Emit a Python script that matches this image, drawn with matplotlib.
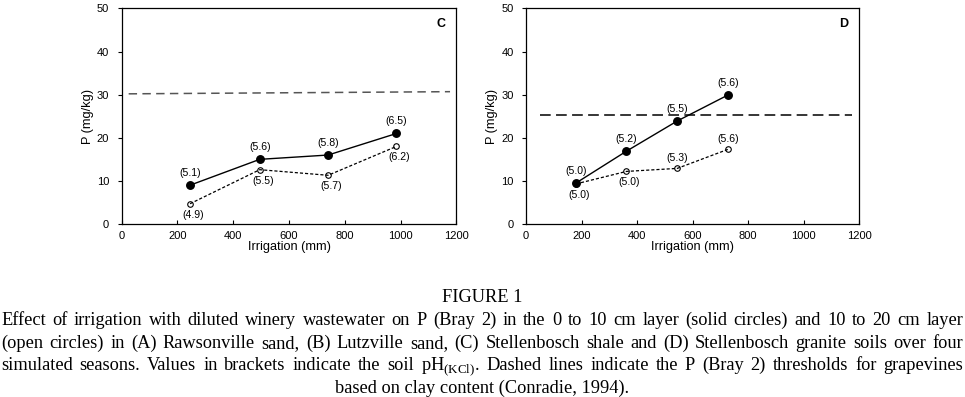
import matplotlib
matplotlib.use("Agg")
import matplotlib.pyplot as plt

plt.rcParams['font.family'] = ['Liberation Sans', 'DejaVu Sans']
plt.rcParams['mathtext.fontset'] = 'custom'
plt.rcParams['mathtext.rm'] = 'Liberation Serif'

# panel C - Stellenbosch shale
c_irr = [245, 495, 740, 985]
c_top = [9.0, 15.0, 16.0, 21.0]
c_sub = [4.7, 12.6, 11.3, 18.0]
c_top_ph = ["(5.1)", "(5.6)", "(5.8)", "(6.5)"]
c_sub_ph = ["(4.9)", "(5.5)", "(5.7)", "(6.2)"]
c_thr_x = [25, 1177]
c_thr_y = [30.2, 30.7]

# panel D - Stellenbosch granite
d_irr = [180, 362, 545, 727]
d_top = [9.5, 16.9, 23.9, 29.9]
d_sub = [9.3, 12.2, 12.9, 17.3]
d_top_ph = ["(5.0)", "(5.2)", "(5.5)", "(5.6)"]
d_sub_ph = ["(5.0)", "(5.0)", "(5.3)", "(5.6)"]
d_sub_pos = ["below", "below", "above", "above"]
d_thr_x = [50, 1173]
d_thr_y = [25.3, 25.3]

xticks = [0, 200, 400, 600, 800, 1000, 1200]
yticks = [0, 10, 20, 30, 40, 50]

caption = [
    "Effect of irrigation with diluted winery wastewater on P (Bray 2) in the 0 to 10 cm layer (solid circles) and 10 to 20 cm layer",
    "(open circles) in (A) Rawsonville sand, (B) Lutzville sand, (C) Stellenbosch shale and (D) Stellenbosch granite soils over four",
    "simulated seasons. Values in brackets indicate the soil pH$_{\\mathrm{(KCl)}}$. Dashed lines indicate the P (Bray 2) thresholds for grapevines",
    "based on clay content (Conradie, 1994).",
]

W, H = 965, 397
fig = plt.figure(figsize=(W / 100, H / 100), dpi=100)
ax_c = fig.add_axes([0.1261, 0.4358, 0.3469, 0.5428])
ax_d = fig.add_axes([0.5451, 0.4358, 0.3451, 0.5428])


def panel(ax, irr, top, sub, top_ph, sub_ph, sub_pos, thr_x, thr_y, thr_col, thr_dash, letter):
    ax.plot(thr_x, thr_y, color=thr_col, lw=1.1, dashes=thr_dash)
    ax.plot(irr, top, color='black', lw=1.0, marker='o', ms=5.4,
            mfc='black', mec='black')
    ax.plot(irr, sub, color='black', lw=0.9, dashes=(2.5, 1.6), marker='o', ms=4.0,
            mfc='none', mec='black', mew=0.8)
    for x, y, t in zip(irr, top, top_ph):
        ax.annotate(t, (x, y), xytext=(0, 7), textcoords='offset pixels',
                    ha='center', va='bottom', fontsize=7.6)
    for x, y, t, p in zip(irr, sub, sub_ph, sub_pos):
        if p == "above":
            ax.annotate(t, (x, y), xytext=(0, 5), textcoords='offset pixels',
                        ha='center', va='bottom', fontsize=7.6)
        else:
            ax.annotate(t, (x, y), xytext=(3, -6), textcoords='offset pixels',
                        ha='center', va='top', fontsize=7.6)
    ax.set_xlim(0, 1200)
    ax.set_ylim(0, 50)
    ax.set_xticks(xticks)
    ax.set_yticks(yticks)
    ax.tick_params(axis='x', direction='in', length=3, labelsize=8, pad=5)
    ax.tick_params(axis='y', direction='out', length=3, labelsize=8, pad=6)
    ax.set_xlabel("Irrigation (mm)", fontsize=9.2, labelpad=0)
    ax.set_ylabel("P (mg/kg)", fontsize=9.2, labelpad=2)
    for s in ax.spines.values():
        s.set_linewidth(0.9)
    ax.text(0.955, 0.93, letter, transform=ax.transAxes, ha='center', va='center',
            fontsize=9, fontweight='bold')


panel(ax_c, c_irr, c_top, c_sub, c_top_ph, c_sub_ph, ["below"] * 4,
      c_thr_x, c_thr_y, '#555555', (5.5, 3.5), "C")
panel(ax_d, d_irr, d_top, d_sub, d_top_ph, d_sub_ph, d_sub_pos,
      d_thr_x, d_thr_y, 'black', (7, 3.5), "D")

serif = dict(family='Liberation Serif', fontsize=13.2, va='center')
fig.text(0.5, 1 - 297.5 / H, "FIGURE 1", ha='center', **serif)

# caption: full lines justified across the width, the last one centred
fig.canvas.draw()
renderer = fig.canvas.get_renderer()
for i, line in enumerate(caption):
    y = 1 - (320.5 + 22.6 * i) / H
    if i == len(caption) - 1:
        fig.text(0.5, y, line, ha='center', **serif)
        continue
    words = line.split(" ")
    texts = [fig.text(0, y, w, ha='left', **serif) for w in words]
    widths = [t.get_window_extent(renderer).width for t in texts]
    x0, x1 = 1.0, 963.0
    gap = (x1 - x0 - sum(widths)) / (len(words) - 1)
    x = x0
    for t, w in zip(texts, widths):
        t.set_x(x / W)
        x += w + gap

fig.savefig("out.png", dpi=100)
